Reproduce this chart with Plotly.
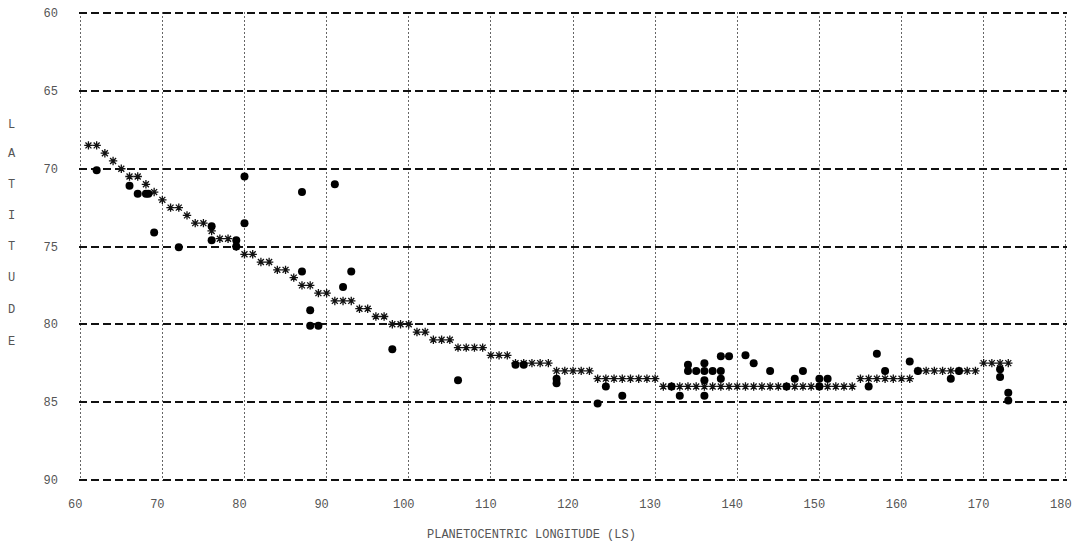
import plotly.graph_objects as go

# Model curve ("+" markers): planetocentric longitude vs latitude
model_ls = [61, 62, 63, 64, 65, 66, 67, 68, 69, 70, 71, 72, 73, 74, 75, 76, 77, 78, 79, 80,
            81, 82, 83, 84, 85, 86, 87, 88, 89, 90, 91, 92, 93, 94, 95, 96, 97, 98, 99, 100,
            101, 102, 103, 104, 105, 106, 107, 108, 109, 110, 111, 112, 113, 114, 115, 116, 117,
            118, 119, 120, 121, 122, 123, 124, 125, 126, 127, 128, 129, 130,
            131, 132, 133, 134, 135, 136, 137, 138, 139, 140, 141, 142, 143, 144, 145, 146, 147,
            148, 149, 150, 151, 152, 153, 154,
            155, 156, 157, 158, 159, 160, 161, 162, 163, 164, 165, 166, 167, 168, 169,
            170, 171, 172, 173]
model_lat = [68.5, 68.5, 69.0, 69.5, 70.0, 70.5, 70.5, 71.0, 71.5, 72.0, 72.5, 72.5, 73.0, 73.5, 73.5,
             74.0, 74.5, 74.5, 75.0, 75.5, 75.5, 76.0, 76.0, 76.5, 76.5, 77.0, 77.5, 77.5, 78.0, 78.0,
             78.5, 78.5, 78.5, 79.0, 79.0, 79.5, 79.5, 80.0, 80.0, 80.0, 80.5, 80.5, 81.0, 81.0, 81.0,
             81.5, 81.5, 81.5, 81.5, 82.0, 82.0, 82.0, 82.5, 82.5, 82.5, 82.5, 82.5,
             83.0, 83.0, 83.0, 83.0, 83.0, 83.5, 83.5, 83.5, 83.5, 83.5, 83.5, 83.5, 83.5,
             84.0, 84.0, 84.0, 84.0, 84.0, 84.0, 84.0, 84.0, 84.0, 84.0, 84.0, 84.0, 84.0, 84.0,
             84.0, 84.0, 84.0, 84.0, 84.0, 84.0, 84.0, 84.0, 84.0, 84.0,
             83.5, 83.5, 83.5, 83.5, 83.5, 83.5, 83.5, 83.0, 83.0, 83.0, 83.0, 83.0, 83.0, 83.0, 83.0,
             82.5, 82.5, 82.5, 82.5]

# Observations (filled dots)
obs_ls = [62, 66, 67, 68, 68.3, 69, 72, 76, 76, 79, 79, 80, 80, 87, 91, 87, 93, 92, 88, 88, 89,
          98, 106, 113, 114, 118, 118, 123, 124, 126, 132, 133, 134, 134, 135, 136, 136, 136, 136,
          137, 138, 139, 138, 138, 141, 142, 144, 146, 147, 148, 150, 150, 151, 156, 157, 158,
          161, 162, 166, 167, 172, 172, 173, 173]
obs_lat = [70.1, 71.1, 71.6, 71.6, 71.6, 74.1, 75.05, 73.7, 74.6, 74.6, 75.0, 70.5, 73.5, 71.5, 71.0,
           76.6, 76.6, 77.6, 79.1, 80.1, 80.1, 81.6, 83.6, 82.6, 82.6, 83.5, 83.8, 85.1, 84.0, 84.6,
           84.0, 84.6, 82.6, 83.0, 83.0, 82.5, 83.0, 83.6, 84.6, 83.0, 82.05, 82.05, 83.0, 83.5,
           82.0, 82.5, 83.0, 84.0, 83.5, 83.0, 83.5, 84.0, 83.5, 84.0, 81.9, 83.0, 82.4, 83.0,
           83.5, 83.0, 82.9, 83.4, 84.4, 84.9]

x_ticks = [60, 70, 80, 90, 100, 110, 120, 130, 140, 150, 160, 170, 180]
x_tick_text = ["60", "70", "80", "90", "100", "110", "120", "130", "140", "150", "160", "170", "180"]
y_ticks = [60, 65, 70, 75, 80, 85, 90]
y_title_letters = ["L", "A", "T", "I", "T", "U", "D", "E"]
x_title = "PLANETOCENTRIC LONGITUDE (LS)"

FONT = "Liberation Mono"
TXT = "#555555"

fig = go.Figure()
fig.add_trace(go.Scatter(
    x=model_ls, y=model_lat, mode="markers",
    marker=dict(symbol="asterisk-open", size=7, color="#111111",
                line=dict(width=1.3, color="#111111")),
    showlegend=False, hoverinfo="skip"))
fig.add_trace(go.Scatter(
    x=obs_ls, y=obs_lat, mode="markers",
    marker=dict(symbol="circle", size=8, color="#000000", line=dict(width=0)),
    showlegend=False, hoverinfo="skip"))

fig.update_layout(
    width=1077, height=546,
    margin=dict(l=79, r=10, t=12, b=65),
    paper_bgcolor="white", plot_bgcolor="white",
    font=dict(family=FONT, size=12, color=TXT),
)
fig.update_xaxes(
    range=[59.85, 180.15], tickvals=x_ticks, ticktext=x_tick_text, automargin=False,
    showgrid=True, gridcolor="#666666", gridwidth=1, griddash="2px,2px",
    zeroline=False, showline=False, ticks="", ticklabelstandoff=14, ticklabelshift=-5,
    tickfont=dict(family=FONT, size=12, color=TXT))
fig.update_yaxes(
    range=[90.08, 59.92], tickvals=y_ticks, automargin=False,
    showgrid=True, gridcolor="#111111", gridwidth=1.5, griddash="8px,4px",
    zeroline=False, showline=False, ticks="", ticklabelstandoff=20,
    tickfont=dict(family=FONT, size=12, color=TXT))

# vertical stacked y-axis title
letter_y = [0.759, 0.697, 0.631, 0.565, 0.499, 0.433, 0.365, 0.296]
for ch, yy in zip(y_title_letters, letter_y):
    fig.add_annotation(text=ch, xref="paper", yref="paper", x=-0.068, y=yy,
                       showarrow=False, xanchor="center", yanchor="middle",
                       font=dict(family=FONT, size=12, color=TXT))

fig.add_annotation(text=x_title, xref="paper", yref="paper", x=0.4575, y=-0.115,
                   showarrow=False, xanchor="center", yanchor="middle",
                   font=dict(family=FONT, size=12, color=TXT))

# remove the page's default 8px body margin so the figure sits at the window origin
fig.write_html("out.html", config={"displayModeBar": False},
               post_script="document.body.style.margin='0';")
